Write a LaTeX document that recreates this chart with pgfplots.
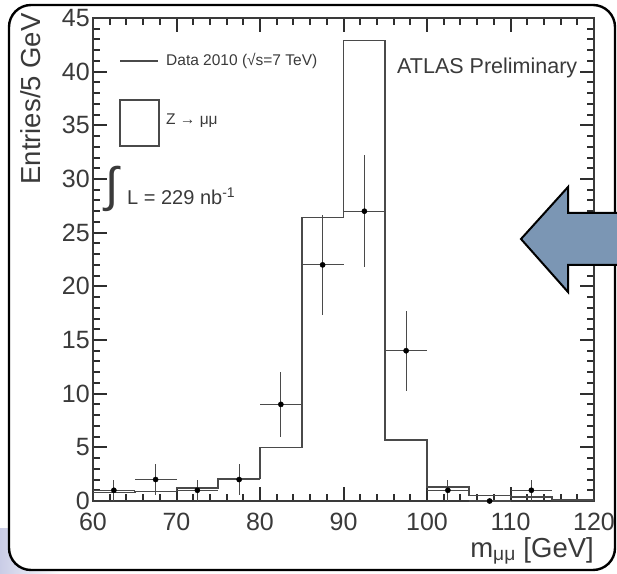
\documentclass[border=0pt]{standalone}
\usepackage{pgfplots}
\pgfplotsset{compat=1.18}
\usepackage{fontspec}
\setmainfont{Liberation Sans}
\definecolor{axgray}{HTML}{3A3A3A}
\definecolor{tickgray}{HTML}{2E2E2E}
\definecolor{mcgray}{HTML}{4A4A4A}
\definecolor{arrowblue}{HTML}{7B96B4}
\definecolor{lav}{HTML}{C9CCE6}
\begin{document}
\begin{tikzpicture}
\useasboundingbox (0pt,0pt) rectangle (617pt,573pt);
% background tint bottom-left
\shade[left color=lav, right color=white] (0pt,0pt) rectangle (60pt,45pt);
\fill[white, rounded corners=22pt] (9pt,3pt) rectangle (615pt,568pt);
\begin{axis}[
  at={(93pt,72pt)}, anchor=south west,
  scale only axis, width=501pt, height=483pt,
  xmin=60, xmax=120, ymin=0, ymax=45,
  xtick={60,70,80,90,100,110,120}, ytick={0,5,10,15,20,25,30,35,40,45},
  minor x tick num=4, minor y tick num=4,
  xtick pos=both, ytick pos=both, tick align=inside,
  major tick length=14pt, minor tick length=7pt,
  tick style={draw=tickgray, line width=2pt},
  axis line style={axgray, line width=1.3pt},
  /pgf/number format/assume math mode=true,
  xticklabel style={font=\fontsize{25}{25}\selectfont, text=axgray, inner sep=2pt, yshift=-10pt},
  yticklabel style={font=\fontsize{25}{25}\selectfont, text=axgray, inner sep=1pt, xshift=-2pt},
  xlabel={m\textsubscript{μμ} [GeV]},
  ylabel={Entries/5 GeV},
  label style={font=\fontsize{27.5}{27.5}\selectfont, text=axgray},
  xlabel style={at={(axis description cs:1,-0.116)}, anchor=base east, inner sep=0pt},
  ylabel style={at={(axis description cs:-0.124,1.01)}, anchor=east, inner sep=0pt},
  clip=false,
]
% Z -> mumu simulation histogram
\addplot[const plot, mcgray, line width=1.6pt, mark=none] coordinates {
  (60,0.8) (65,0.9) (70,1.2) (75,2.1) (80,5.0) (85,26.4) (90,42.9)
  (95,5.7) (100,1.3) (105,0.5) (110,0.4) (115,0.1) (120,0.1)
};
% data
\addplot[only marks, mark=*, mark size=2.6pt, black,
  error bars/.cd, x dir=both, x explicit, y dir=both, y explicit,
  error bar style={mcgray, line width=1.2pt}, error mark=none]
  table[x=x, y=y, x error=ex, y error=ey] {
x y ex ey
62.5 1 2.5 1
67.5 2 2.5 1.41
72.5 1 2.5 1
77.5 2 2.5 1.41
82.5 9 2.5 3
87.5 22 2.5 4.69
92.5 27 2.5 5.2
97.5 14 2.5 3.74
102.5 1 2.5 1
107.5 0 2.5 0
112.5 1 2.5 1
};
\end{axis}
% legend
\draw[mcgray, line width=1.3pt] (120pt,512pt) -- (158pt,512pt);
\node[anchor=west, inner sep=0pt, text=axgray, font=\fontsize{15.5}{15.5}\selectfont] at (166pt,512pt) {Data 2010 (√s=7 TeV)};
\draw[mcgray, line width=1.3pt] (120pt,427pt) rectangle (159pt,473pt);
\node[anchor=west, inner sep=0pt, text=axgray, font=\fontsize{15.5}{15.5}\selectfont] at (166pt,452pt) {Z → μμ};
\node[inner sep=0pt, text=axgray, font=\fontsize{48}{48}\selectfont] at (112pt,384pt) {∫};
\node[anchor=base west, inner sep=0pt, text=axgray, font=\fontsize{20}{20}\selectfont] at (127pt,368pt) {L = 229 nb\textsuperscript{-1}};
\node[anchor=west, inner sep=0pt, text=axgray, font=\fontsize{21.5}{21.5}\selectfont] at (397pt,505pt) {ATLAS Preliminary};
% frame
\draw[black, line width=2.4pt, rounded corners=22pt] (9pt,3pt) rectangle (615pt,568pt);
% arrow
\begin{scope}
\clip (0pt,0pt) rectangle (617pt,573pt);
\draw[fill=arrowblue, draw=black, line width=2pt, line join=miter]
  (521pt,334pt) -- (568pt,386pt) -- (568pt,360pt) -- (640pt,360pt) -- (640pt,308pt) -- (568pt,308pt) -- (568pt,281pt) -- cycle;
\end{scope}
\end{tikzpicture}
\end{document}
